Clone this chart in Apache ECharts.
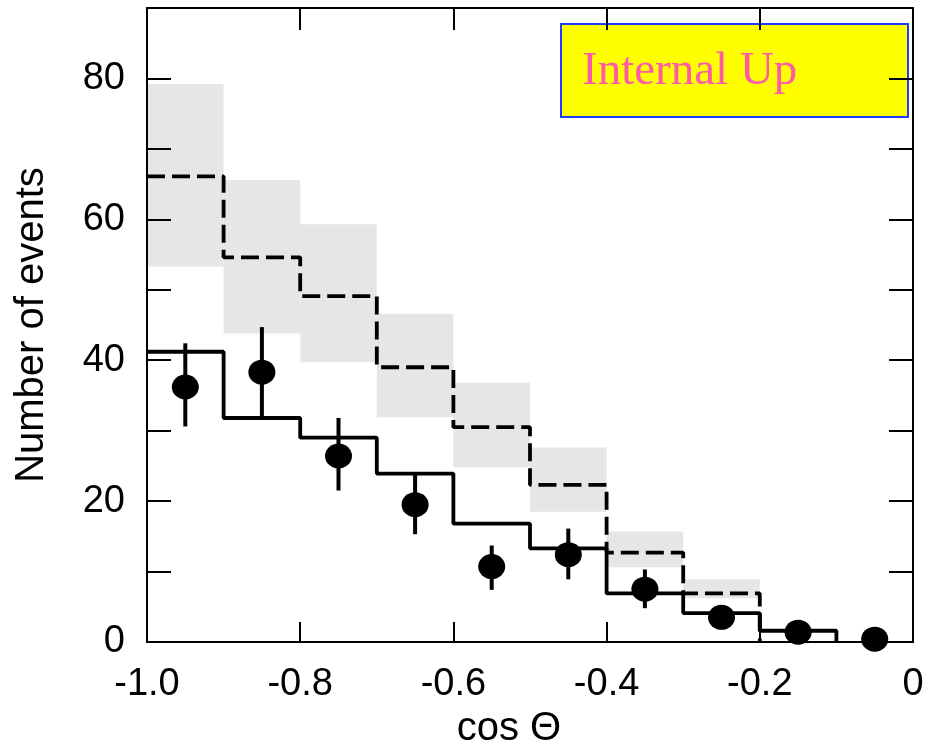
<!DOCTYPE html>
<html>
<head>
<meta charset="utf-8">
<script src="https://cdn.jsdelivr.net/npm/echarts@6/dist/echarts.min.js"></script>
<style>
  html, body { margin: 0; padding: 0; background: #fff; }
  #chart { width: 926px; height: 741px; }
</style>
</head>
<body>
<div id="chart"></div>
<script>
// Bin edges in cos(theta)
const binEdges = [-1.0, -0.9, -0.8, -0.7, -0.6, -0.5, -0.4, -0.3, -0.2, -0.1];

// Expected events without oscillation (dashed) and its systematic band
const expected     = [66.1, 54.6, 49.1, 39.0, 30.5, 22.3, 12.7, 6.9];
const expectedHigh = [79.2, 65.6, 59.3, 46.6, 36.8, 27.6, 15.7, 8.9];
const expectedLow  = [53.3, 43.8, 39.7, 31.9, 24.8, 18.5, 10.6, 6.2];

// Best-fit oscillated expectation (solid)
const oscillated = [41.2, 31.8, 29.0, 23.9, 16.8, 13.3, 6.9, 4.1, 1.6];

// Observed data with error bars
const dataX    = [-0.95, -0.85, -0.75, -0.65, -0.55, -0.45, -0.35, -0.25, -0.15, -0.05];
const dataY    = [36.2, 38.3, 26.4, 19.5, 10.7, 12.4, 7.5, 3.5, 1.4, 0.4];
const errHigh  = [42.4, 44.7, 31.8, 23.9, 13.7, 16.1, 10.3, 4.6, 2.3, 0.9];
const errLow   = [30.6, 31.8, 21.5, 15.3, 7.4, 8.9, 4.8, 2.4, 0.6, 0.1];

// Axis ticks
const xTicks = { min: -1.0, max: 0, step: 0.2 };
const yTicks = { min: 0, max: 90, step: 10, labelEvery: 20 };

function stepPoints(values) {
  const pts = [];
  values.forEach((v, i) => {
    pts.push([binEdges[i], v]);
    pts.push([binEdges[i + 1], v]);
  });
  pts.push([binEdges[values.length], 0]);
  return pts;
}

const bandData = expected.map((_, i) => [binEdges[i], binEdges[i + 1], expectedLow[i], expectedHigh[i]]);
const errData = dataX.map((x, i) => [x, errLow[i], errHigh[i]]);
const pointData = dataX.map((x, i) => [x, dataY[i]]);

const sans = 'Liberation Sans, Arial, sans-serif';
const labelFont = { fontFamily: sans, fontSize: 38, color: '#000' };
const axisLine = { show: true, onZero: false, lineStyle: { color: '#000', width: 2 } };
const tick = (len) => ({ show: true, inside: true, length: len, lineStyle: { color: '#000', width: 2 } });

const chart = echarts.init(document.getElementById('chart'), null, { renderer: 'canvas' });

chart.setOption({
  animation: false,
  backgroundColor: '#fff',
  grid: { left: 147, right: 13, top: 8, bottom: 99, containLabel: false, outerBoundsMode: 'none' },
  xAxis: [
    {
      type: 'value', position: 'bottom', z: 10,
      min: xTicks.min, max: xTicks.max, interval: xTicks.step,
      axisLine: axisLine, axisTick: tick(20), splitLine: { show: false },
      axisLabel: Object.assign({ margin: 24, formatter: v => Math.abs(v) < 1e-9 ? '0' : v.toFixed(1) }, labelFont),
      name: 'cos \u0398', nameLocation: 'middle', nameGap: 60,
      nameTextStyle: { fontFamily: sans, fontSize: 40, color: '#000', padding: [0, 42, 0, 0] }
    },
    {
      type: 'value', position: 'top', z: 10,
      min: xTicks.min, max: xTicks.max, interval: xTicks.step,
      axisLine: axisLine, axisTick: tick(22), axisLabel: { show: false }, splitLine: { show: false }
    }
  ],
  yAxis: [
    {
      type: 'value', position: 'left', z: 10,
      min: yTicks.min, max: yTicks.max, interval: yTicks.step,
      axisLine: axisLine, axisTick: tick(24), splitLine: { show: false },
      axisLabel: Object.assign({ margin: 22, formatter: v => (v % yTicks.labelEvery === 0 && v < yTicks.max) ? String(v) : '' }, labelFont),
      name: 'Number of events', nameLocation: 'middle', nameGap: 95, nameRotate: 90,
      nameTextStyle: { fontFamily: sans, fontSize: 40, color: '#000', padding: [0, 0, 0, 0] }
    },
    {
      type: 'value', position: 'right', z: 10,
      min: yTicks.min, max: yTicks.max, interval: yTicks.step,
      axisLine: axisLine, axisTick: tick(24), axisLabel: { show: false }, splitLine: { show: false }
    }
  ],
  series: [
    {
      name: 'band', type: 'custom', z: 1,
      data: bandData,
      encode: { x: [0, 1], y: [2, 3] },
      renderItem: (params, api) => {
        const p0 = api.coord([api.value(0), api.value(3)]);
        const p1 = api.coord([api.value(1), api.value(2)]);
        return {
          type: 'rect',
          shape: { x: p0[0], y: p0[1], width: p1[0] - p0[0], height: p1[1] - p0[1] },
          style: { fill: '#e6e6e6' }
        };
      }
    },
    {
      name: 'expected', type: 'line', z: 3,
      data: stepPoints(expected), symbol: 'none',
      lineStyle: { color: '#000', width: 3.8, type: [18, 7] }
    },
    {
      name: 'oscillated', type: 'line', z: 4,
      data: stepPoints(oscillated), symbol: 'none',
      lineStyle: { color: '#000', width: 3.8, type: 'solid' }
    },
    {
      name: 'errors', type: 'custom', z: 5,
      data: errData,
      encode: { x: 0, y: [1, 2] },
      renderItem: (params, api) => {
        const lo = api.coord([api.value(0), api.value(1)]);
        const hi = api.coord([api.value(0), api.value(2)]);
        return {
          type: 'line',
          shape: { x1: lo[0], y1: lo[1], x2: hi[0], y2: hi[1] },
          style: { stroke: '#000', lineWidth: 4 }
        };
      }
    },
    {
      name: 'data', type: 'scatter', z: 6,
      data: pointData, symbol: 'circle', symbolSize: [27, 25],
      itemStyle: { color: '#000', opacity: 1 }
    }
  ],
  graphic: [
    {
      type: 'group', left: 560, top: 23, z: 20,
      children: [
        {
          type: 'rect', shape: { x: 0, y: 0, width: 347, height: 93 },
          style: { fill: '#ffff00', stroke: '#1f3dff', lineWidth: 2 }
        },
        {
          type: 'text', x: 21, y: 48,
          style: {
            text: 'Internal Up', fill: '#ff5aa8',
            font: '47px "Liberation Serif", "Times New Roman", serif',
            verticalAlign: 'middle', align: 'left'
          }
        }
      ]
    }
  ]
});
</script>
</body>
</html>
